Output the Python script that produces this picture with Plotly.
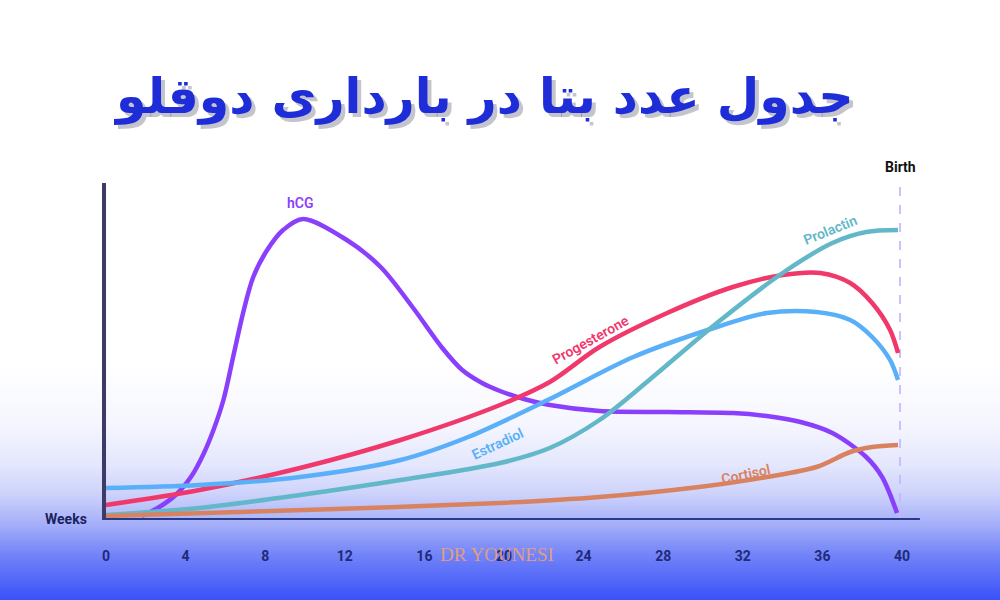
import plotly.graph_objects as go
import numpy as np

# ---------------- data (weeks of pregnancy vs relative hormone level) ----------------
tick_weeks = [0, 4, 8, 12, 16, 20, 24, 28, 32, 36, 40]
tick_labels = ["0", "4", "8", "12", "16", "20", "24", "28", "32", "36", "40"]

hcg_weeks = [1.8, 2.6, 3.5, 4.3, 4.9, 5.4, 5.9, 6.4, 6.9, 7.4, 8.1, 8.9, 9.9,
             12.1, 13.8, 15.4, 16.9, 17.9, 18.9, 19.8, 21.0, 22.3, 24.8, 28.2, 31.5, 33.2,
             34.9, 36.5, 38.2, 39.0, 39.75]
hcg_vals = [4, 12, 25, 44, 66, 90, 120, 164, 208, 243, 270, 290, 301,
            280, 253, 213, 172, 150, 137, 129, 121, 115, 109, 108, 107, 104,
            98, 87, 63, 43, 7]

prog_weeks = [0, 4.7, 9.75, 14.8, 19.8, 22.3, 24.8, 28.2, 31.5, 34.0, 35.9, 37.4, 38.5, 39.4, 39.8]
prog_vals = [15, 30, 52, 80, 115, 138, 173, 207, 233, 245, 247, 237, 217, 190, 167]

estr_weeks = [0, 4.7, 9.75, 14.8, 18.2, 22.3, 26.5, 30.7, 33.2, 35.7, 37.4, 38.5, 39.4, 39.8]
estr_vals = [32, 35, 43, 60, 83, 121, 163, 193, 207, 208, 200, 183, 160, 140]

prol_weeks = [0, 4.7, 9.75, 14.8, 19.8, 22.3, 24.8, 27.3, 30.7, 34.0, 36.5, 38.2, 39.8]
prol_vals = [5, 12, 25, 40, 57, 72, 100, 140, 197, 247, 277, 288, 290]

cort_weeks = [0, 10, 19.8, 24.8, 29.8, 33.2, 35.7, 37.4, 38.5, 39.8]
cort_vals = [4, 10, 17, 23, 33, 43, 53, 68, 73, 75]

series_names = ["hCG", "Progesterone", "Estradiol", "Prolactin", "Cortisol"]
series_colors = ["#8a3ffc", "#f0386b", "#5ab0f8", "#62b8c8", "#d9825f"]

title_text = "جدول عدد بتا در بارداری دوقلو"

# ---------------- figure ----------------
W, H = 1000, 600
AXIS_PX = 520          # pixel row of the x axis
PX_PER_WEEK = 19.9
X0_PX = 106
x_lo = -X0_PX / PX_PER_WEEK
x_hi = x_lo + W / PX_PER_WEEK

fig = go.Figure()

for name, wk, vals, col in zip(series_names,
                               [hcg_weeks, prog_weeks, estr_weeks, prol_weeks, cort_weeks],
                               [hcg_vals, prog_vals, estr_vals, prol_vals, cort_vals],
                               series_colors):
    fig.add_trace(go.Scatter(x=wk, y=vals, mode="lines", name=name,
                             line=dict(color=col, width=4.5, shape="spline", smoothing=0.9),
                             hoverinfo="skip", showlegend=False, cliponaxis=False))

shapes = []
# background gradient bands (paper coords)
stops = [(365, (255, 255, 255)), (425, (245, 246, 254)), (465, (228, 231, 253)),
         (495, (205, 210, 251)), (525, (165, 175, 249)), (555, (115, 132, 248)),
         (600, (58, 82, 248))]
sy = [s[0] for s in stops]
step = 3
for y in range(365, 600, step):
    yc = y + step / 2
    rgb = [int(round(np.interp(yc, sy, [s[1][k] for s in stops]))) for k in range(3)]
    shapes.append(dict(type="rect", xref="paper", yref="paper", x0=0, x1=1,
                       y0=(H - y - step - 0.5) / H, y1=(H - y + 0.5) / H,
                       fillcolor=f"rgb({rgb[0]},{rgb[1]},{rgb[2]})",
                       line=dict(width=0), layer="below"))

# axes lines
shapes.append(dict(type="line", xref="x", yref="y", x0=-0.1, x1=-0.1, y0=0, y1=337,
                   line=dict(color="#3d3b66", width=4), layer="above"))
shapes.append(dict(type="line", xref="x", yref="y", x0=-0.15, x1=40.9, y0=0, y1=0,
                   line=dict(color="#283a8c", width=4), layer="above"))
# birth dashed line
shapes.append(dict(type="line", xref="x", yref="y", x0=39.9, x1=39.9, y0=0, y1=335,
                   line=dict(color="rgba(200,180,255,0.85)", width=2, dash="dash"),
                   layer="below"))

annotations = []
# title with shadow
for dx, dy, col in [(4, 4, "rgba(60,60,90,0.30)"), (0, 0, "#1e2dd7")]:
    annotations.append(dict(text=f"<b>{title_text}</b>", xref="paper", yref="paper",
                            x=483 / W + dx / W, y=(H - 97 - dy) / H, showarrow=False,
                            xanchor="center", yanchor="middle",
                            font=dict(family="DejaVu Sans", size=49, color=col)))

# series labels
label_specs = [
    ("hCG", 9.75, 317, 0, "#8a3ffc"),
    ("Progesterone", (590 - X0_PX) / PX_PER_WEEK, AXIS_PX - 340, -29, "#f0386b"),
    ("Estradiol", (497 - X0_PX) / PX_PER_WEEK, AXIS_PX - 444, -25, "#5ab0f8"),
    ("Prolactin", (830 - X0_PX) / PX_PER_WEEK, AXIS_PX - 230, -22, "#62b8c8"),
    ("Cortisol", (746 - X0_PX) / PX_PER_WEEK, AXIS_PX - 474, -12, "#d9825f"),
]
for txt, xx, yy, ang, col in label_specs:
    annotations.append(dict(text=txt, x=xx, y=yy, xref="x", yref="y", showarrow=False,
                            xanchor="center", yanchor="middle", textangle=ang,
                            font=dict(family="Roboto", size=14, color=col, weight=600)))

annotations.append(dict(text="<b>Birth</b>", x=39.9, y=AXIS_PX - 167, xref="x", yref="y",
                        showarrow=False, xanchor="center", yanchor="middle",
                        font=dict(family="Roboto", size=14, color="#111111")))
annotations.append(dict(text="<b>Weeks</b>", x=66 / W, y=(H - 519) / H, xref="paper", yref="paper",
                        showarrow=False, xanchor="center", yanchor="middle",
                        font=dict(family="Roboto", size=14, color="#1a2260")))
# watermark
annotations.append(dict(text="DR YOUNESI", x=497 / W, y=(H - 554) / H, xref="paper", yref="paper",
                        showarrow=False, xanchor="center", yanchor="middle",
                        font=dict(family="Liberation Serif", size=19, color="rgba(240,160,110,0.9)")))

fig.update_layout(
    width=W, height=H,
    margin=dict(l=0, r=0, t=0, b=0),
    paper_bgcolor="white",
    plot_bgcolor="rgba(0,0,0,0)",
    shapes=shapes,
    annotations=annotations,
    xaxis=dict(range=[x_lo, x_hi], domain=[0, 1], showgrid=False, zeroline=False,
               showline=False, tickmode="array", tickvals=tick_weeks, ticktext=tick_labels,
               ticks="outside", ticklen=23, tickcolor="rgba(0,0,0,0)",
               tickfont=dict(family="Roboto", size=14, color="#1f2a7a", weight="bold"),
               fixedrange=True),
    yaxis=dict(range=[0, AXIS_PX], domain=[(H - AXIS_PX) / H, 1], showgrid=False,
               zeroline=False, showline=False, showticklabels=False, fixedrange=True),
)

fig.write_html("out.html")
